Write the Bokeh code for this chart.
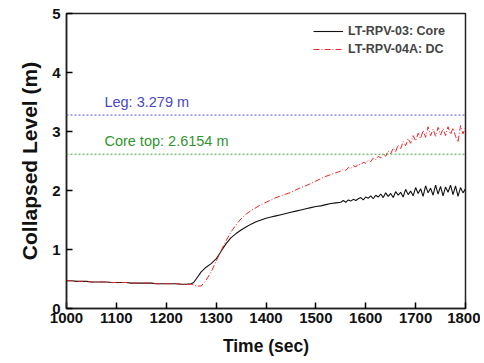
from bokeh.plotting import figure
from bokeh.models import Span, Legend, LegendItem, Range1d
from bokeh.core.properties import value
from bokeh.embed import file_html
from bokeh.resources import INLINE

# ---- data ----
time_coarse = [1000, 1010, 1020, 1030, 1040, 1050, 1060, 1070, 1080, 1090,
               1100, 1110, 1120, 1130, 1140, 1150, 1160, 1170, 1180, 1190,
               1200, 1210, 1220, 1230, 1240, 1250, 1255, 1260, 1270, 1280, 1290,
               1300, 1310, 1320, 1330, 1340, 1350, 1360, 1370, 1380, 1390,
               1400, 1410, 1420, 1430, 1440, 1450, 1460, 1470, 1480, 1490,
               1500, 1510, 1520, 1530, 1540, 1550]
time_fine = [1555, 1560, 1565, 1570, 1575, 1580, 1585, 1590, 1595, 1600,
             1605, 1610, 1615, 1620, 1625, 1630, 1635, 1640, 1645, 1650,
             1655, 1660, 1665, 1670, 1675, 1680, 1685, 1690, 1695, 1700,
             1705, 1710, 1715, 1720, 1725, 1730, 1735, 1740, 1745, 1750,
             1755, 1760, 1765, 1770, 1775, 1780, 1785, 1790, 1795, 1800]

core_coarse = [0.47, 0.47, 0.46, 0.46, 0.46, 0.45, 0.45, 0.45, 0.45, 0.44,
               0.44, 0.44, 0.44, 0.43, 0.43, 0.43, 0.43, 0.43, 0.42, 0.42,
               0.42, 0.42, 0.42, 0.41, 0.41, 0.42, 0.44, 0.50, 0.62, 0.70, 0.76,
               0.84, 0.97, 1.10, 1.20, 1.27, 1.33, 1.38, 1.43, 1.47, 1.50,
               1.53, 1.55, 1.57, 1.59, 1.61, 1.63, 1.65, 1.67, 1.69, 1.71,
               1.73, 1.74, 1.76, 1.78, 1.79, 1.80]
core_fine = [1.83, 1.80, 1.84, 1.82, 1.85, 1.83, 1.86, 1.88, 1.84, 1.89,
             1.87, 1.91, 1.86, 1.92, 1.89, 1.94, 1.88, 1.96, 1.90, 1.95,
             1.88, 1.98, 1.92, 1.97, 1.89, 2.02, 1.93, 1.99, 1.91, 2.05,
             1.95, 2.03, 1.90, 2.08, 1.96, 2.04, 1.92, 2.09, 1.94, 2.07,
             1.91, 2.06, 1.97, 2.09, 1.93, 2.08, 1.90, 2.05, 1.96, 2.03]

dc_coarse = [0.47, 0.47, 0.46, 0.46, 0.46, 0.45, 0.45, 0.45, 0.45, 0.44,
             0.44, 0.44, 0.44, 0.43, 0.43, 0.43, 0.43, 0.43, 0.42, 0.42,
             0.42, 0.42, 0.42, 0.41, 0.41, 0.41, 0.40, 0.38, 0.38, 0.48, 0.62,
             0.80, 0.98, 1.15, 1.30, 1.42, 1.52, 1.60, 1.66, 1.71, 1.76,
             1.80, 1.84, 1.88, 1.91, 1.94, 1.97, 2.01, 2.05, 2.08, 2.12,
             2.16, 2.20, 2.24, 2.27, 2.30, 2.33]
dc_fine = [2.36, 2.34, 2.39, 2.37, 2.42, 2.40, 2.45, 2.43, 2.48, 2.46,
           2.51, 2.49, 2.55, 2.52, 2.58, 2.55, 2.62, 2.58, 2.67, 2.62,
           2.72, 2.66, 2.77, 2.71, 2.83, 2.76, 2.88, 2.80, 2.93, 2.84,
           2.97, 2.88, 3.02, 2.90, 3.08, 2.93, 3.04, 2.92, 3.07, 2.94,
           3.05, 2.93, 3.08, 2.95, 3.06, 2.92, 2.82, 3.10, 2.96, 3.07]

leg_level = 3.279
core_top_level = 2.6154
leg_label = "Leg: 3.279 m"
core_top_label = "Core top: 2.6154 m"
series_names = ["LT-RPV-03: Core", "LT-RPV-04A: DC"]
x_ticks = [1000, 1100, 1200, 1300, 1400, 1500, 1600, 1700, 1800]
y_ticks = [0, 1, 2, 3, 4, 5]

t = time_coarse + time_fine
core = core_coarse + core_fine
dc = dc_coarse + dc_fine

FONT = "Liberation Sans"

p = figure(width=480, height=358, output_backend="svg", toolbar_location=None,
           x_range=Range1d(1000, 1800), y_range=Range1d(0, 5),
           min_border_left=66, min_border_right=15, min_border_top=13,
           min_border_bottom=50)
p.grid.visible = False
p.outline_line_color = "#222222"
p.outline_line_width = 1.5
p.background_fill_color = "white"
p.border_fill_color = "white"

for ax in (p.xaxis[0], p.yaxis[0]):
    ax.axis_line_width = 1.5
    ax.axis_line_color = "#222222"
    ax.major_tick_in = 6
    ax.major_tick_out = 0
    ax.minor_tick_in = 3
    ax.minor_tick_out = 0
    ax.major_tick_line_width = 1.5
    ax.major_label_text_font = FONT
    ax.major_label_text_font_style = "bold"
    ax.major_label_text_font_size = "15px"
    ax.major_label_text_color = "#111111"
    ax.axis_label_text_font = FONT
    ax.axis_label_text_font_style = "bold"
    ax.axis_label_text_color = "#111111"

p.xaxis.axis_label_text_font_size = "17.5px"
p.yaxis.axis_label_text_font_size = "21px"
p.xaxis.ticker = x_ticks
p.xaxis[0].ticker.num_minor_ticks = 2
p.yaxis.ticker = y_ticks
p.yaxis[0].ticker.num_minor_ticks = 2
p.xaxis.axis_label = "Time (sec)"
p.yaxis.axis_label = "Collapsed Level (m)"
p.xaxis.major_label_standoff = 4
p.yaxis.major_label_standoff = 6
p.xaxis.axis_label_standoff = 10
p.yaxis.axis_label_standoff = 8

# reference levels
p.add_layout(Span(location=leg_level, dimension="width", line_color="#5050d0",
                  line_dash="2 2", line_width=1))
p.add_layout(Span(location=core_top_level, dimension="width", line_color="#40a040",
                  line_dash="2 2", line_width=1))
p.text(x=[1076], y=[leg_level], text=[leg_label], text_font=value(FONT),
       text_font_size="14.5px", text_color="#4848c8", text_baseline="bottom",
       y_offset=-5)
p.text(x=[1076], y=[core_top_level], text=[core_top_label], text_font=value(FONT),
       text_font_size="14.5px", text_color="#2f962f", text_baseline="bottom",
       y_offset=-5)

r_core = p.line(t, core, line_color="#111111", line_width=1.1)
r_dc = p.line(t, dc, line_color="#e8282a", line_width=1, line_dash="6 2 1 2")

legend = Legend(items=[LegendItem(label=series_names[0], renderers=[r_core]),
                       LegendItem(label=series_names[1], renderers=[r_dc])],
                location="top_right")
legend.border_line_color = None
legend.background_fill_alpha = 0
legend.label_text_font = FONT
legend.label_text_font_style = "bold"
legend.label_text_font_size = "12.5px"
legend.glyph_width = 30
legend.glyph_height = 18
legend.label_height = 18
legend.label_width = 108
legend.spacing = 0
legend.padding = 4
legend.margin = 9
legend.label_standoff = 5
p.add_layout(legend)

open("out.html", "w").write(file_html(p, INLINE))
